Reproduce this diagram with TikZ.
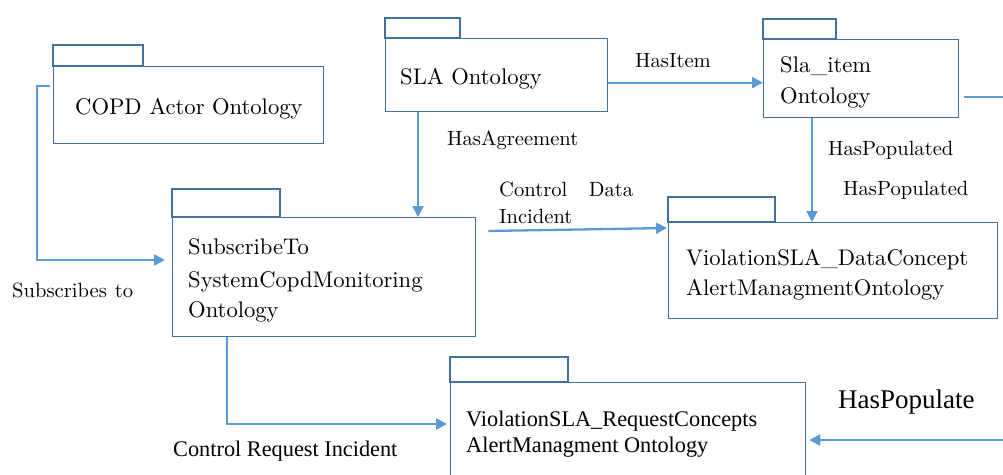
\documentclass[tikz,border=0pt]{standalone}
\usepackage{fontspec}
\setmainfont{lmroman10-regular}[Extension=.otf]
\newfontfamily\timesfont{Liberation Serif}
\usetikzlibrary{arrows.meta}
\definecolor{boxblue}{HTML}{41719C}
\definecolor{linkblue}{HTML}{5B9BD5}

\begin{document}
\begin{tikzpicture}[x=1pt,y=-1pt,
  box/.style={draw=boxblue, line width=1.3pt, fill=white, inner sep=0pt, anchor=north west},
  tab/.style={draw=boxblue, line width=1.3pt},
  link/.style={draw=linkblue, line width=2.3pt, -{Triangle[length=11pt,width=11pt]}},
  boxtext/.style={anchor=base west, inner sep=0pt, font=\fontsize{22.6}{26}\selectfont},
  lbl/.style={anchor=base west, inner sep=0pt, font=\fontsize{20.6}{24}\selectfont},
  tlbl/.style={anchor=base west, inner sep=0pt, font=\timesfont\fontsize{22.3}{26}\selectfont},
]
\useasboundingbox (0,0) rectangle (1003,474);

% package boxes with their tabs
\node[box, minimum width=270, minimum height=77] (copd) at (53,66) {};
\draw[tab] (copd.north west) rectangle ++(90,-21);
\node[box, minimum width=222, minimum height=73] (sla) at (385,38) {};
\draw[tab] (sla.north west) rectangle ++(75,-20);
\node[box, minimum width=195, minimum height=78] (item) at (763,39) {};
\draw[tab] (item.north west) rectangle ++(73,-20);
\node[box, minimum width=303, minimum height=119] (sub) at (172,217) {};
\draw[tab] (sub.north west) rectangle ++(108,-28);
\node[box, minimum width=329, minimum height=96] (data) at (668,222) {};
\draw[tab] (data.north west) rectangle ++(107,-25);
\node[box, minimum width=355, minimum height=110] (req) at (450,382) {};
\draw[tab] (req.north west) rectangle ++(118,-25);

% box texts
\node[boxtext] (copdT) at (75,114) {COPD Actor Ontology};
\node[boxtext] (slaT) at (400,84) {SLA Ontology};
\node[boxtext] (itemT1) at (780,72) {Sla\_item};
\node[boxtext] (itemT2) at (780,103) {Ontology};
\node[boxtext] (subT1) at (188,254) {SubscribeTo};
\node[boxtext] (subT2) at (188,287) {SystemCopdMonitoring};
\node[boxtext] (subT3) at (188,317) {Ontology};
\node[boxtext] (dataT1) at (686,265) {ViolationSLA\_DataConcept};
\node[boxtext] (dataT2) at (686,295) {AlertManagmentOntology};
\node[tlbl] (reqT1) at (466,426) {ViolationSLA\_RequestConcepts};
\node[tlbl] (reqT2) at (466,452) {AlertManagment Ontology};

% connectors
\draw[link] ([shift={(-3,20)}]copd.north west) -- ++(-13,0) |- ([shift={(-7,43)}]sub.north west);
\draw[link] ([xshift=33pt]sla.south west) -- ([xshift=33pt]sla.south west |- sub.north);
\draw[link] ([shift={(0,7.5)}]sla.east) -- ([shift={(0,7.5)}]sla.east -| item.west);
\draw[link] ([xshift=49pt]item.south west) -- ([xshift=49pt]item.south west |- data.north);
\draw[link] ([shift={(12,14)}]sub.north east) -- ([shift={(-1,6)}]data.north west);
\draw[link] ([xshift=55pt]sub.south west) |- ([shift={(-3,42)}]req.north west);
\draw[link] ([shift={(5,18)}]item.east) -- ++(60,0) |- ([shift={(3,58)}]req.north east);

% connector labels
\node[lbl] (hasItem) at (635,67) {HasItem};
\node[lbl] (hasAgr) at (447,145) {HasAgreement};
\node[lbl] (hasPop1) at (828,155) {HasPopulated};
\node[lbl] (hasPop2) at (843,195) {HasPopulated};
\node[lbl] (ctrl1) at (499,196) {\makebox[134pt][s]{Control\hfill Data}};
\node[lbl] (ctrl2) at (499,223) {Incident};
\node[lbl] (subsTo) at (12,297) {\makebox[121pt][s]{Subscribes\hfill to}};
\node[tlbl] (ctrlReq) at (173,456) {Control Request Incident};
\node[tlbl, font=\timesfont\fontsize{27}{30}\selectfont] (hasPopulate) at (838,408) {HasPopulate};
\end{tikzpicture}
\end{document}
